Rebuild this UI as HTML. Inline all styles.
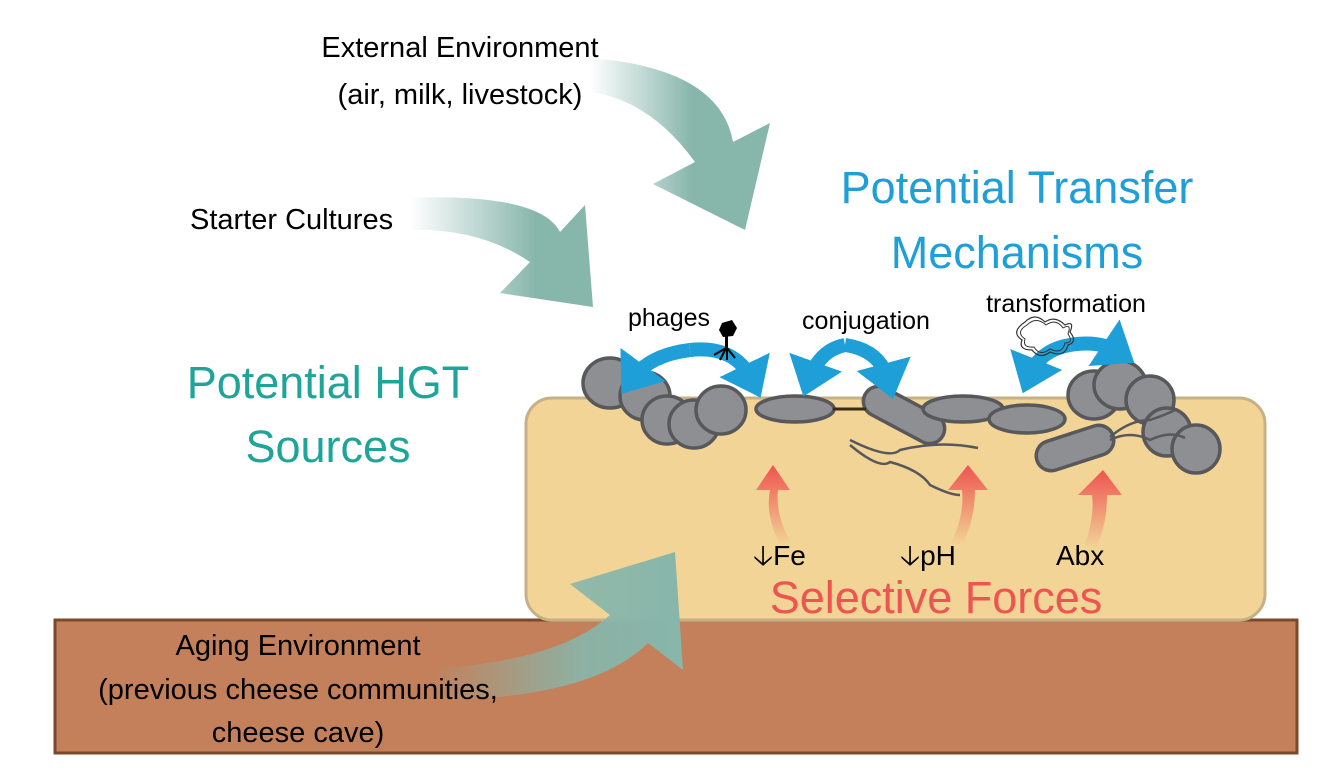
<!DOCTYPE html>
<html><head><meta charset="utf-8"><style>
html,body{margin:0;padding:0;background:#fff;}
svg{display:block;}
text{font-family:"Liberation Sans",sans-serif;}
</style></head><body>
<svg width="1331" height="780" viewBox="0 0 1331 780" xmlns="http://www.w3.org/2000/svg">
<defs>
<linearGradient id="g1" x1="590" y1="0" x2="760" y2="0" gradientUnits="userSpaceOnUse"><stop offset="0" stop-color="#87b6ab" stop-opacity="0"/><stop offset="0.6" stop-color="#87b6ab"/><stop offset="1" stop-color="#87b6ab"/></linearGradient>
<linearGradient id="g2" x1="410" y1="0" x2="590" y2="0" gradientUnits="userSpaceOnUse"><stop offset="0" stop-color="#87b6ab" stop-opacity="0"/><stop offset="0.7" stop-color="#87b6ab"/><stop offset="1" stop-color="#87b6ab"/></linearGradient>
<linearGradient id="g3" x1="430" y1="0" x2="680" y2="0" gradientUnits="userSpaceOnUse"><stop offset="0" stop-color="#87b6ab" stop-opacity="0"/><stop offset="0.6" stop-color="#87b6ab" stop-opacity="0.9"/><stop offset="1" stop-color="#87b6ab"/></linearGradient>
<linearGradient id="gr" x1="0" y1="1" x2="0" y2="0"><stop offset="0" stop-color="#ee5450" stop-opacity="0"/><stop offset="1" stop-color="#ee5450"/></linearGradient>
<marker id="mb" markerWidth="4" markerHeight="4" refX="1.2" refY="2" orient="auto" markerUnits="strokeWidth"><path d="M0,0 L2.6,2 L0,4 z" fill="#1e9fd8"/></marker>
</defs>

<rect x="55" y="620" width="1242" height="133" fill="#c4805a" stroke="#7a4a2a" stroke-width="3"/>
<rect x="526" y="398" width="739" height="222" rx="26" fill="#f1d496" stroke="#c6b187" stroke-width="3"/>

<path d="M590,58 Q720,68 733,142 L770,123 L745,230 L653,184 L695,162 Q650,100 590,92 Z" fill="url(#g1)"/>
<path d="M400,198 Q540,192 560,232 L585,205 L593,307 L500,293 L530,262 Q480,228 410,230 Z" fill="url(#g2)"/>
<path d="M440,668 Q560,660 610,615 L570,584 L675,552 L683,670 L648,643 Q590,700 430,700 Z" fill="url(#g3)"/>

<g fill="url(#gr)">
<path d="M780,545 Q765,515 770,490 L756,490 L773,465 L790,490 L778,490 Q775,515 792,545 Z"/>
<path d="M950,545 Q965,515 962,490 L948,490 L968,465 L988,490 L975,490 Q975,520 962,545 Z"/>
<path d="M1084,548 Q1095,515 1092,495 L1078,495 L1103,470 L1122,495 L1107,495 Q1107,525 1096,548 Z"/>
</g>

<g fill="#8e8f93" stroke="#58585b" stroke-width="3.5">
<ellipse cx="610" cy="383" rx="27" ry="25"/>
<ellipse cx="645" cy="396" rx="25" ry="24"/>
<ellipse cx="667" cy="420" rx="25" ry="24"/>
<ellipse cx="694" cy="424" rx="25" ry="24"/>
<ellipse cx="721" cy="410" rx="25" ry="24"/>
<ellipse cx="795" cy="409" rx="39" ry="13"/>
<rect x="860" y="400" width="88" height="30" rx="15" transform="rotate(28 904 415)"/>
<ellipse cx="963" cy="409" rx="40" ry="13"/>
<ellipse cx="1027" cy="419" rx="38" ry="14"/>
<ellipse cx="1094" cy="395" rx="26" ry="24"/>
<ellipse cx="1120" cy="385" rx="26" ry="24"/>
<ellipse cx="1150" cy="400" rx="24" ry="24"/>
<ellipse cx="1167" cy="432" rx="24" ry="24"/>
<ellipse cx="1196" cy="449" rx="24" ry="24"/>
<rect x="1035" y="433" width="80" height="30" rx="15" transform="rotate(-18 1075 448)"/>
</g>
<line x1="833" y1="409" x2="866" y2="409" stroke="#3a2a1a" stroke-width="3"/>
<g fill="none" stroke="#58585b" stroke-width="2.5">
<path d="M850,440 Q890,460 900,450 Q940,440 978,448"/>
<path d="M850,445 Q880,470 890,462 Q920,470 930,485 Q950,495 960,495"/>
<path d="M1110,440 Q1130,430 1150,440 Q1170,430 1185,438"/>
<path d="M1110,437 Q1130,420 1150,420 Q1165,415 1175,410"/>
</g>

<g fill="none" stroke="#1e9fd8" stroke-width="14">
<path d="M690,350 Q650,355 633,378" marker-end="url(#mb)"/>
<path d="M690,350 Q735,345 752,380" marker-end="url(#mb)"/>
<path d="M845,345 Q820,350 810,378" marker-end="url(#mb)"/>
<path d="M845,345 Q880,350 888,380" marker-end="url(#mb)"/>
<path d="M1070,345 Q1040,350 1030,375" marker-end="url(#mb)"/>
<path d="M1070,345 Q1100,340 1118,352" marker-end="url(#mb)"/>
</g>
<g fill="#000">
<polygon points="722,323 732,320 737,328 733,336 723,337 719,330"/>
<rect x="725" y="335" width="3" height="14"/>
</g>
<g stroke="#000" stroke-width="2" fill="none"><path d="M726,348 L714,355 M726,348 L720,360 M727,348 L727,360 M727,348 L735,358"/></g>
<path d="M1025,322 Q1035,312 1045,322 Q1055,315 1065,325 Q1075,320 1070,332 Q1078,342 1068,345 Q1065,358 1050,352 Q1040,360 1032,350 Q1018,350 1022,340 Q1010,332 1025,322 Z" fill="none" stroke="#333" stroke-width="1.2"/>
<path d="M1027,325 Q1036,316 1046,325 Q1056,318 1063,328 Q1072,323 1068,334 Q1074,343 1065,343 Q1062,355 1050,349 Q1040,357 1034,347 Q1022,348 1025,339 Q1015,332 1027,325 Z" fill="none" stroke="#333" stroke-width="1"/>

<g font-size="29" fill="#000" text-anchor="middle">
<text x="460" y="57">External Environment</text>
<text x="460" y="104">(air, milk, livestock)</text>
<text x="298" y="655">Aging Environment</text>
<text x="298" y="699">(previous cheese communities,</text>
<text x="298" y="742">cheese cave)</text>
</g>
<text x="190" y="229" font-size="29">Starter Cultures</text>
<g font-size="25" text-anchor="middle">
<text x="669" y="326">phages</text>
<text x="866" y="329">conjugation</text>
<text x="1066" y="312">transformation</text>
</g>
<g font-size="28">
<text x="753" y="565">🡣Fe</text>
<text x="900" y="565">🡣pH</text>
<text x="1056" y="565">Abx</text>
</g>
<g font-size="45" text-anchor="middle" fill="#1e9fd8">
<text x="1017" y="203">Potential Transfer</text>
<text x="1017" y="268">Mechanisms</text>
</g>
<g font-size="45" text-anchor="middle" fill="#1ea59a">
<text x="328" y="398">Potential HGT</text>
<text x="328" y="462">Sources</text>
</g>
<text x="936" y="613" font-size="45" text-anchor="middle" fill="#ee5450">Selective Forces</text>
</svg>
</body></html>
